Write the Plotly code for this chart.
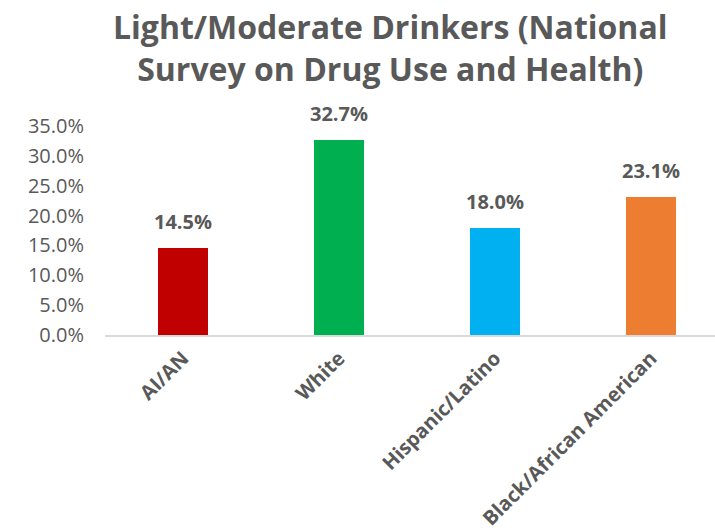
import plotly.graph_objects as go

categories = ["AI/AN", "White", "Hispanic/Latino", "Black/African American"]
values = [14.5, 32.7, 18.0, 23.1]
colors = ["#C00000", "#00B050", "#00B0F0", "#ED7D31"]
tick_vals = [0, 5, 10, 15, 20, 25, 30, 35]
tick_text = ["0.0%", "5.0%", "10.0%", "15.0%", "20.0%", "25.0%", "30.0%", "35.0%"]
title_text = "Light/Moderate Drinkers (National<br>Survey on Drug Use and Health)"

gray = "#595959"

fig = go.Figure()
fig.add_trace(go.Bar(
    x=categories, y=values, marker=dict(color=colors, line=dict(width=0)),
    width=0.315, hoverinfo="skip",
))
for c, v in zip(categories, values):
    fig.add_annotation(x=c, y=v, text=f"<b>{v:.1f}%</b>", showarrow=False,
                       yanchor="bottom", yshift=11,
                       font=dict(family="Open Sans", size=20, color=gray))

fig.add_annotation(xref="paper", yref="paper", x=0.467, y=1.375,
                   xanchor="center", yanchor="middle", showarrow=False,
                   text=f"<b>{title_text}</b>",
                   font=dict(family="Open Sans", size=32, color=gray))

fig.update_layout(
    width=715, height=532,
    margin=dict(l=105, r=0, t=126, b=197),
    plot_bgcolor="white", paper_bgcolor="white",
    showlegend=False,
    xaxis=dict(range=[-0.5, 3.41], showgrid=False, showline=True,
               linecolor="#D9D9D9", linewidth=1.5, ticks="", automargin=False,
               tickangle=-45, tickfont=dict(family="Open Sans", size=20, color=gray),
               ticklabelstandoff=2,
               tickvals=categories, ticktext=[f"<b>{c}</b>" for c in categories]),
    yaxis=dict(range=[0, 35], showgrid=False, zeroline=False, showline=False,
               automargin=False,
               tickvals=tick_vals, ticktext=tick_text, ticklabelstandoff=20,
               tickfont=dict(family="Open Sans", size=20, color=gray)),
    bargap=0,
)

fig.write_html("out.html")
